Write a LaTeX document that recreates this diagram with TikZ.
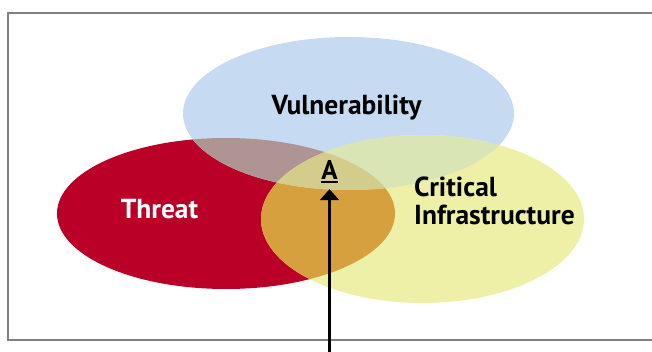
\documentclass[tikz,border=0pt]{standalone}
\usepackage{fontspec}
\setmainfont{PT Sans}
\usetikzlibrary{arrows.meta}

\definecolor{threatred}{RGB}{186,0,38}
\definecolor{vulnblue}{RGB}{198,219,241}
\definecolor{infrayellow}{RGB}{238,240,168}
\definecolor{tvmix}{RGB}{174,148,146}
\definecolor{timix}{RGB}{215,160,62}
\definecolor{vimix}{RGB}{217,229,181}
\definecolor{allmix}{RGB}{212,204,138}
\definecolor{framegray}{RGB}{128,128,128}

\newcommand{\threatpath}{(226,213.5) ellipse [x radius=169, y radius=75.5]}
\newcommand{\vulnpath}{(348.5,113.5) ellipse [x radius=165.5, y radius=76.5]}
\newcommand{\infrapath}{(422.5,219) ellipse [x radius=161.5, y radius=84]}
\newcommand{\ulmark}[1]{\setbox0\hbox{#1}\rlap{\rule[-3.5pt]{\wd0}{2pt}}#1}

\begin{document}
\begin{tikzpicture}[x=1pt,y=-1pt,
    setlabel/.style={font=\bfseries\fontsize{27.5}{28}\selectfont, align=left, inner sep=0pt},
    pointer/.style={-{Triangle[width=19pt,length=11pt]}, line width=2.5pt}]
\useasboundingbox (0,0) rectangle (652,352);
% frame
\draw[framegray, line width=2pt] (652,13) -- (8,13) -- (8,340) -- (652,340);
% the three sets
\fill[threatred] \threatpath;
\fill[vulnblue] \vulnpath;
\fill[infrayellow] \infrapath;
% overlaps
\begin{scope}
  \clip \threatpath;
  \fill[tvmix] \vulnpath;
  \fill[timix] \infrapath;
\end{scope}
\begin{scope}
  \clip \vulnpath;
  \fill[vimix] \infrapath;
  \clip \threatpath;
  \fill[allmix] \infrapath;
\end{scope}
% labels
\node[setlabel, anchor=base] (vuln) at (346.5,115) {Vulnerability};
\node[setlabel, anchor=base, white] (threat) at (159.5,219) {Threat};
\node[setlabel, anchor=base west] (infra) at (414,225) {Critical\\Infrastructure};
\node[font=\bfseries\fontsize{27}{28}\selectfont, anchor=base, inner xsep=0pt, inner ysep=6pt] (A) at (329.5,179.5) {\ulmark{A}};
% arrow up to A
\coordinate (foot) at (329.5,352);
\draw[pointer] (foot) -- (A.south);
\end{tikzpicture}
\end{document}
